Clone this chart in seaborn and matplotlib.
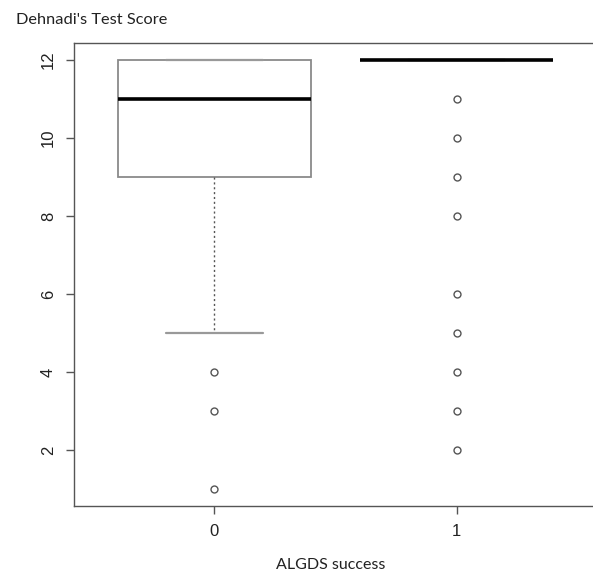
import numpy as np
import pandas as pd
import matplotlib
matplotlib.use("Agg")
import matplotlib.pyplot as plt
import seaborn as sns

# Scores per group, read from the box/whisker/outlier positions
scores_fail = [1, 3, 4, 5, 7, 9, 9, 10, 10, 11, 11, 11, 11, 12, 12, 12, 12, 12, 12, 12, 12]
scores_pass = [2, 3, 4, 5, 6, 8, 9, 10, 11] + [12] * 30
group_labels = ["0", "1"]
y_ticks = [2, 4, 6, 8, 10, 12]

df = pd.DataFrame({
    "group": [group_labels[0]] * len(scores_fail) + [group_labels[1]] * len(scores_pass),
    "score": scores_fail + scores_pass,
})

sns.set_style("white")
plt.rcParams["font.family"] = ["Liberation Sans", "DejaVu Sans"]

fig = plt.figure(figsize=(5.93, 5.72), dpi=100)
# axes box: left 74px, top 43px, bottom 506px, right edge runs off the image
ax = fig.add_axes([74 / 593, 66 / 572, 523 / 593, 463 / 572])

sns.boxplot(
    data=df, x="group", y="score", order=group_labels, ax=ax,
    whis=1.5, width=0.8, color="white", linecolor="#8a8a8a", linewidth=1.3,
    medianprops={"color": "black", "linewidth": 2.6},
    whiskerprops={"color": "#555555", "linestyle": (0, (1.5, 2)), "linewidth": 1.0},
    capprops={"color": "#999999", "linewidth": 1.6},
    flierprops={"marker": "o", "markersize": 5, "markerfacecolor": "white",
                "markeredgecolor": "#555555", "markeredgewidth": 1.0},
)

ax.set_xlim(-0.58, 1.58)
ax.set_ylim(0.56, 12.44)
ax.set_yticks(y_ticks)
ax.set_yticklabels([str(t) for t in y_ticks], rotation=90, va="center")
ax.set_xlabel("")
ax.set_ylabel("")
for s in ax.spines.values():
    s.set_visible(True)
    s.set_color("#555555")
    s.set_linewidth(1.0)
ax.spines["right"].set_visible(False)
ax.tick_params(axis="both", direction="out", length=6, width=1.0, color="#555555",
               labelsize=12, labelcolor="#222222", pad=7, left=True, bottom=True)

fig.text(16 / 593, 1 - 20 / 572, "Dehnadi's Test Score", ha="left", va="center",
         fontsize=11.8, family=["Lato", "DejaVu Sans"], color="#222222")
fig.text(331 / 593, 1 - 565 / 572, "ALGDS success", ha="center", va="center",
         fontsize=11.5, family=["Lato", "DejaVu Sans"], color="#222222")

fig.savefig("out.png", dpi=100, facecolor="white")
